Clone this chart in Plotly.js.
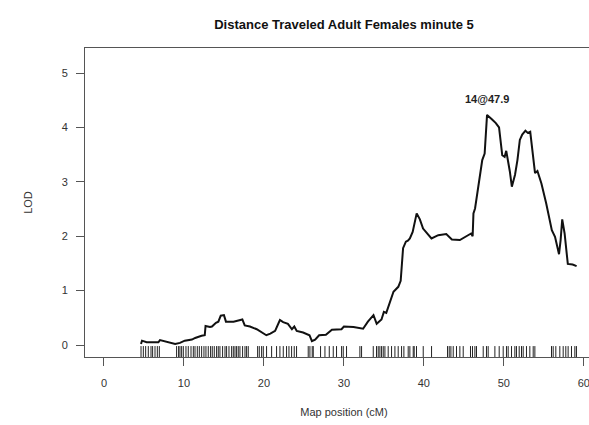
<!DOCTYPE html>
<html>
<head>
<meta charset="utf-8">
<script src="https://cdn.plot.ly/plotly-3.0.1.min.js"></script>
<style>
  html, body { margin: 0; padding: 0; overflow: hidden; background: #fff; }
  #chart { width: 640px; height: 425px; }
</style>
</head>
<body>
<div id="chart"></div>
<script>
// LOD profile along the chromosome (map position in cM, LOD score)
const positions = [4.63, 4.75, 5.33, 6.8, 7.0, 7.83, 8.9, 9.5, 10.1, 11.0, 11.4, 12.2, 12.6, 12.7, 13.25, 13.5, 14.0, 14.3, 14.6, 15.0,
  15.25, 16.2, 16.9, 17.3, 17.6, 18.25, 19.1, 19.7, 20.3, 20.8, 21.4, 22.0, 22.4, 23.0, 23.5, 23.8, 24.1, 24.9, 25.7, 26.0,
  26.4, 26.9, 27.75, 28.5, 29.7, 30.0, 31.2, 32.4, 33.0, 33.7, 34.1, 34.7, 35.0, 35.3, 35.75, 36.2, 36.8, 37.1, 37.4, 37.75,
  38.0, 38.25, 38.6, 38.8, 39.1, 39.5, 39.9, 40.95, 41.8, 42.8, 43.2, 43.5, 44.5, 45.3, 45.9, 46.1, 46.2, 46.4, 46.9, 47.3,
  47.6, 47.9, 48.5, 49.0, 49.4, 49.8, 50.1, 50.3, 50.75, 51.0, 51.4, 51.7, 52.0, 52.3, 52.7, 53.0, 53.3, 53.7, 53.9, 54.2,
  54.7, 55.3, 56.0, 56.4, 56.9, 57.1, 57.3, 57.6, 58.0, 58.6, 59.1];
const lod = [0.02, 0.08, 0.05, 0.05, 0.09, 0.055, 0.02, 0.04, 0.08, 0.10, 0.13, 0.17, 0.18, 0.35, 0.33, 0.34, 0.41, 0.43, 0.54, 0.55,
  0.43, 0.43, 0.45, 0.47, 0.36, 0.34, 0.29, 0.24, 0.18, 0.21, 0.26, 0.46, 0.42, 0.39, 0.29, 0.34, 0.26, 0.23, 0.18, 0.07,
  0.10, 0.18, 0.19, 0.28, 0.29, 0.34, 0.33, 0.30, 0.43, 0.55, 0.39, 0.47, 0.61, 0.59, 0.77, 0.98, 1.07, 1.18, 1.78, 1.90,
  1.92, 1.96, 2.08, 2.22, 2.42, 2.31, 2.14, 1.96, 2.02, 2.04, 1.99, 1.94, 1.93, 1.99, 2.05, 2.00, 2.42, 2.51, 3.03, 3.40,
  3.52, 4.23, 4.15, 4.08, 4.00, 3.49, 3.46, 3.57, 3.19, 2.91, 3.13, 3.40, 3.77, 3.87, 3.94, 3.90, 3.92, 3.46, 3.16, 3.20,
  2.97, 2.60, 2.11, 1.99, 1.67, 1.93, 2.31, 2.05, 1.49, 1.48, 1.45];

// Marker (genotyped locus) positions shown as a rug along the bottom
const markers = [4.63, 4.92, 5.21, 5.54, 5.88, 6.08, 6.38, 6.67, 6.92,
  9.08, 9.33, 9.5, 9.71, 9.92, 10.25, 10.54, 10.88, 11.17, 11.38, 11.67, 11.92, 12.21, 12.5, 12.75, 13.04, 13.33, 13.54,
  13.79, 14.08, 14.29, 14.5, 14.83, 15.13, 15.33, 15.63, 15.96, 16.17, 16.38, 16.58, 16.79, 17.0, 17.33, 17.63, 17.83, 18.04,
  19.21, 19.42, 19.71, 19.92, 20.33, 20.96, 21.58, 22.0, 22.42, 22.83, 23.13, 23.46, 23.79, 24.08,
  25.54, 25.75, 26.04, 26.17, 27.08, 27.63, 28.17, 28.67, 29.08, 29.71, 29.92, 30.33,
  32.0, 32.21, 33.67, 34.08, 34.29, 34.5, 34.71, 34.92, 35.13, 35.54, 35.96, 36.38, 36.79, 37.21, 37.5, 38.04, 38.25,
  38.67, 38.79, 39.08, 39.92, 40.96,
  42.96, 43.17, 43.38, 43.67, 44.08, 44.5, 44.92, 45.83, 46.08, 46.38, 46.58, 47.42, 47.83, 48.04, 48.88, 49.42, 49.92,
  50.33, 50.54, 50.96, 51.38, 51.58, 51.92, 52.21, 52.42, 52.83, 53.25, 53.67, 53.88,
  55.96, 56.17, 56.5, 57.0, 57.42, 57.75, 58.04, 58.46, 58.88, 59.08];

const xTicks = [0, 10, 20, 30, 40, 50, 60];
const yTicks = [0, 1, 2, 3, 4, 5];
const chromosome = 14;

// Peak of the profile, used for the label
let peakIdx = 0;
lod.forEach((v, i) => { if (v > lod[peakIdx]) peakIdx = i; });
const peakPos = positions[peakIdx];
const peakLod = lod[peakIdx];

const ink = '#333333';
const font = 'Liberation Sans, Arial, Helvetica, sans-serif';

const profile = {
  x: positions, y: lod,
  type: 'scatter', mode: 'lines',
  line: { color: '#111111', width: 2 },
  hoverinfo: 'x+y'
};

const rug = {
  x: markers,
  y: markers.map(() => -0.135),
  type: 'scatter', mode: 'markers',
  marker: { symbol: 'line-ns-open', size: 9, color: '#222222', line: { color: '#222222', width: 1 } },
  hoverinfo: 'x'
};

const layout = {
  width: 640, height: 425,
  margin: { l: 85, r: 37, t: 48, b: 68 },
  paper_bgcolor: '#ffffff', plot_bgcolor: '#ffffff',
  showlegend: false,
  font: { family: font, color: ink, size: 11 },
  title: {
    text: '<b>Distance Traveled Adult Females minute 5</b>',
    font: { family: font, size: 13, color: '#111111' },
    x: 0.5, xref: 'paper', xanchor: 'center',
    y: 17, yref: 'container', yanchor: 'middle'
  },
  xaxis: {
    range: [-2.375, 62.4],
    tickvals: xTicks, ticktext: xTicks.map(String),
    ticks: 'outside', ticklen: 8, tickcolor: '#555555', tickwidth: 1,
    ticklabelstandoff: 8,
    showline: true, mirror: true, linecolor: '#555555', linewidth: 1,
    showgrid: false, zeroline: false,
    tickfont: { family: font, size: 11, color: ink },
    title: { text: 'Map position (cM)', font: { family: font, size: 11, color: ink }, standoff: 20 }
  },
  yaxis: {
    range: [-0.22, 5.46],
    tickvals: yTicks, ticktext: yTicks.map(String),
    ticks: 'outside', ticklen: 8, tickcolor: '#555555', tickwidth: 1,
    ticklabelstandoff: 6,
    showline: true, mirror: true, linecolor: '#555555', linewidth: 1,
    showgrid: false, zeroline: false,
    tickfont: { family: font, size: 11, color: ink },
    title: { text: 'LOD', font: { family: font, size: 11, color: ink }, standoff: 26 }
  },
  annotations: [{
    x: peakPos, y: peakLod, xref: 'x', yref: 'y',
    text: '<b>' + chromosome + '@' + peakPos.toFixed(1) + '</b>',
    showarrow: false, yshift: 16,
    font: { family: font, size: 11, color: '#222222' }
  }]
};

Plotly.newPlot('chart', [profile, rug], layout, { staticPlot: true, displayModeBar: false });
</script>
</body>
</html>
